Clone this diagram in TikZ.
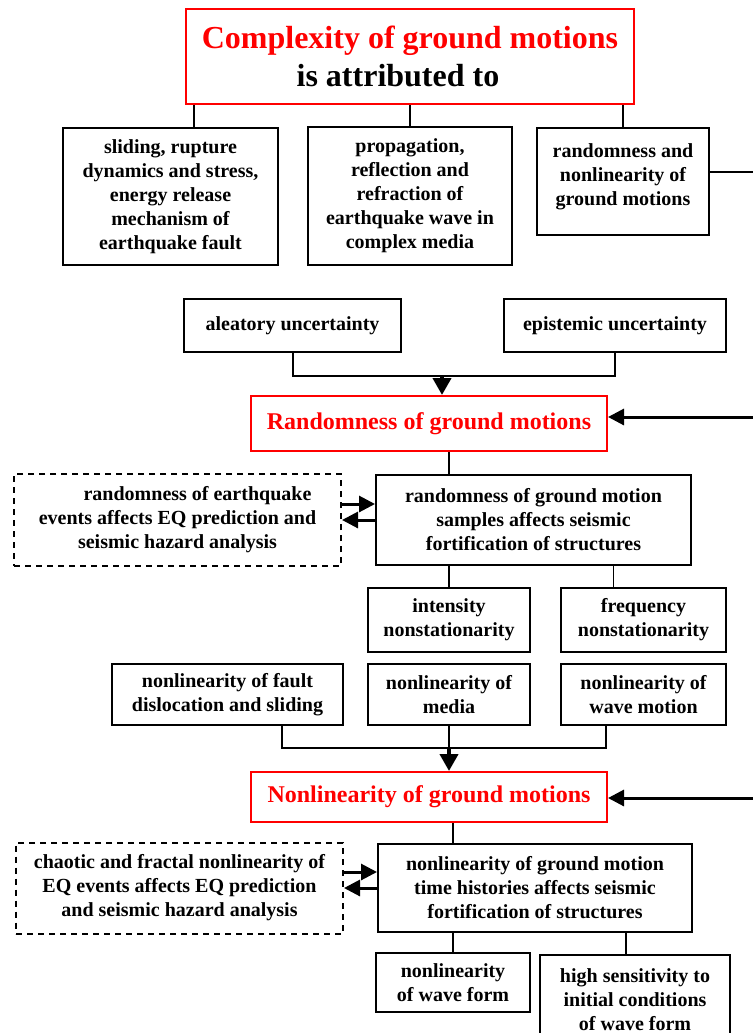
\documentclass[tikz,border=0pt]{standalone}
\usepackage{fontspec}
\setmainfont{Liberation Serif}
\usetikzlibrary{arrows.meta}

\begin{document}
\begin{tikzpicture}[x=0.5pt,y=-0.5pt,
  font=\bfseries\fontsize{10}{12}\selectfont,
  box/.style={draw,line width=1pt,align=center,inner sep=0pt},
  redbox/.style={box,draw=red,text=red},
  dashbox/.style={box,dash pattern=on 3pt off 2.5pt},
  link/.style={line width=0.8pt},
  arr/.style={line width=1.5pt,-{Triangle[length=8pt,width=8pt]}},
  downarr/.style={line width=2pt,-{Triangle[length=8.5pt,width=9pt]}}]
\useasboundingbox (0,0) rectangle (752,1033);

\node[redbox,minimum width=224pt,minimum height=47.5pt,font=\bfseries\fontsize{16}{19}\selectfont] (title) at (410,56.5) {Complexity of ground motions\\\textcolor{black}{is attributed to}\hspace*{12pt}};
\node[box,minimum width=107.5pt,minimum height=68.5pt] (slide) at (170.5,196.5) {sliding, rupture\\dynamics and stress,\\energy release\\mechanism of\\earthquake fault};
\node[box,minimum width=102pt,minimum height=69pt] (prop) at (410,196) {propagation,\\reflection and\\refraction of\\earthquake wave in\\complex media};
\node[box,minimum width=86pt,minimum height=53.5pt] (both) at (623,181.5) {randomness and\\nonlinearity of\\ground motions\\[-5pt]~};

\node[box,minimum width=108.5pt,minimum height=26.5pt] (alea) at (292.5,325.5) {aleatory uncertainty};
\node[box,minimum width=111pt,minimum height=26.5pt] (epis) at (615,325.5) {epistemic uncertainty};
\node[redbox,minimum width=178pt,minimum height=27.5pt,font=\bfseries\fontsize{12}{14}\selectfont] (rand) at (429,423.5) {Randomness of ground motions};
\node[dashbox,minimum width=163.5pt,minimum height=46pt] (revt) at (177.5,520) {\hspace*{20pt}randomness of earthquake\\events affects EQ prediction and\\seismic hazard analysis};
\node[box,minimum width=157.5pt,minimum height=45pt] (rsmp) at (533.5,520) {randomness of ground motion\\samples affects seismic\\fortification of structures};
\node[box,minimum width=81pt,minimum height=32pt] (inten) at (449,620) {intensity\\nonstationarity};
\node[box,minimum width=82.5pt,minimum height=32pt] (freq) at (643.5,620) {frequency\\nonstationarity};

\node[box,minimum width=115.5pt,minimum height=30.5pt] (nflt) at (227.5,694.5) {nonlinearity of fault\\dislocation and sliding};
\node[box,minimum width=81pt,minimum height=30.5pt] (nmed) at (449,694.5) {nonlinearity of\\media};
\node[box,minimum width=82.5pt,minimum height=30.5pt] (nwav) at (643.5,694.5) {nonlinearity of\\wave motion};
\node[redbox,minimum width=178pt,minimum height=25pt,font=\bfseries\fontsize{12}{14}\selectfont] (nonl) at (429,797) {Nonlinearity of ground motions};
\node[dashbox,minimum width=163.5pt,minimum height=45.5pt] (nevt) at (179.5,888) {chaotic and fractal nonlinearity of\\EQ events affects EQ prediction\\and seismic hazard analysis};
\node[box,minimum width=157pt,minimum height=44pt] (nsmp) at (535,888) {nonlinearity of ground motion\\time histories affects seismic\\fortification of structures};
\node[box,minimum width=77pt,minimum height=29.5pt] (wfrm) at (453,982.5) {nonlinearity\\of wave form};
\node[box,minimum width=95pt,minimum height=45pt] (sens) at (635,1000) {high sensitivity to\\initial conditions\\of wave form};

\coordinate (ja) at (442,376);
\coordinate (jn) at (449,748);
\coordinate (e1) at (760,172);
\coordinate (e2) at (760,417);
\coordinate (e3) at (760,798);

\draw[link] ([xshift=-108pt]title.south) -- ++(0,24);
\draw[link] (title.south) -- (prop.north);
\draw[link] (both.north |- title.south) -- (both.north);
\draw[line width=1.2pt] (e1 -| both.east) -- (e1);

\draw[line width=1pt] (alea.south) |- (ja) -| (epis.south);
\draw[downarr] (ja) -- (ja |- rand.north);
\draw[arr] (e2) -- (e2 -| rand.east);
\draw[link] (inten.north |- rand.south) -- (inten.north |- rsmp.north);
\draw[arr] ([yshift=8pt]revt.east) -- ([yshift=8pt]rsmp.west);
\draw[arr] (rsmp.west) -- (revt.east);
\draw[link] (inten.north |- rsmp.south) -- (inten.north);
\draw[link] ([xshift=40pt]rsmp.south) -- ++(0,23);

\draw[line width=1pt] ([xshift=27pt]nflt.south) |- (jn) -| ([xshift=-19pt]nwav.south);
\draw[link] (nmed.south) -- (jn);
\draw[downarr] (jn) -- (jn |- nonl.north);
\draw[arr] (e3) -- (e3 -| nonl.east);
\draw[link] (wfrm.north |- nonl.south) -- (wfrm.north |- nsmp.north);
\draw[arr] ([yshift=8pt]nevt.east) -- ([yshift=8pt]nsmp.west);
\draw[arr] (nsmp.west) -- (nevt.east);
\draw[link] (wfrm.north |- nsmp.south) -- (wfrm.north);
\draw[link] ([xshift=45.5pt]nsmp.south) -- ++(0,23);
\end{tikzpicture}
\end{document}
